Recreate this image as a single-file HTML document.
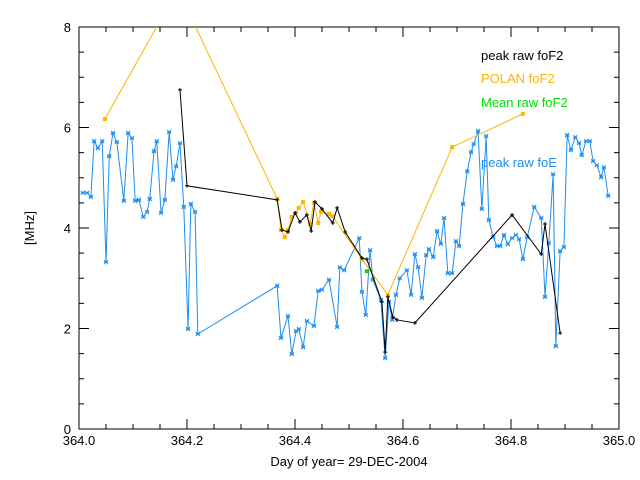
<!DOCTYPE html>
<html><head><meta charset="utf-8"><style>
body{margin:0;background:#fff}
svg{display:block;font-family:"Liberation Sans",sans-serif}
</style></head><body>
<svg id="chart" width="640" height="480" viewBox="0 0 640 480">
<rect width="640" height="480" fill="#fff"/>
<defs><clipPath id="pc"><rect x="79" y="27" width="540" height="402"/></clipPath></defs>
<g id="axes" stroke="#000" stroke-width="1" fill="none"></g>
<g id="series" clip-path="url(#pc)"></g>
<g id="labels" font-size="13"></g>
<text x="349" y="466" text-anchor="middle" font-size="13">Day of year= 29-DEC-2004</text>
<text x="34" y="228" text-anchor="middle" font-size="13" transform="rotate(-90 34 228)">[MHz]</text>
<text x="481" y="60" font-size="13" fill="#000">peak raw foF2</text>
<text x="481" y="83" font-size="13" fill="#ffb400">POLAN foF2</text>
<text x="481" y="107" font-size="13" fill="#00e000">Mean raw foF2</text>
<text x="481" y="167" font-size="13" fill="#1e8ff0">peak raw foE</text>
</svg>
<script>
const xTicks=[364.0,364.2,364.4,364.6,364.8,365.0];
const xTickLabels=["364.0","364.2","364.4","364.6","364.8","365.0"];
const yTicks=[0,2,4,6,8];
const yTickLabels=["0","2","4","6","8"];
const foEx=[364.007,364.015,364.022,364.028,364.035,364.043,364.050,364.056,364.063,364.070,364.083,364.091,364.098,364.104,364.111,364.119,364.126,364.131,364.139,364.144,364.152,364.159,364.167,364.174,364.180,364.187,364.194,364.202,364.207,364.215,364.220,364.367,364.374,364.387,364.394,364.402,364.407,364.415,364.422,364.435,364.443,364.450,364.463,364.478,364.483,364.491,364.519,364.524,364.531,364.539,364.544,364.559,364.567,364.574,364.580,364.587,364.594,364.607,364.615,364.622,364.628,364.635,364.643,364.648,364.656,364.663,364.670,364.676,364.683,364.691,364.698,364.704,364.711,364.719,364.726,364.731,364.739,364.746,364.754,364.759,364.767,364.774,364.780,364.787,364.794,364.802,364.809,364.815,364.822,364.830,364.843,364.856,364.863,364.870,364.878,364.883,364.891,364.898,364.904,364.911,364.919,364.926,364.931,364.939,364.946,364.952,364.959,364.967,364.972,364.980];
const foEy=[4.70,4.70,4.62,5.73,5.59,5.73,3.32,5.43,5.89,5.71,4.54,5.89,5.79,4.54,4.56,4.22,4.32,4.58,5.53,5.73,4.30,4.56,5.91,4.96,5.23,5.69,4.42,1.99,4.48,4.32,1.89,2.85,1.81,2.25,1.49,1.95,1.99,1.63,2.15,2.05,2.75,2.77,2.97,2.03,3.22,3.16,3.80,2.73,2.27,3.56,2.97,2.57,1.41,2.53,2.17,2.67,3.00,3.16,2.67,3.48,3.22,2.61,3.46,3.58,3.42,3.94,3.68,4.20,3.10,3.10,3.74,3.64,4.48,5.13,5.51,5.67,5.93,4.38,5.83,4.16,3.82,3.64,3.64,3.86,3.68,3.80,3.86,3.78,3.38,3.82,4.42,4.20,2.63,3.70,5.07,1.65,3.54,3.62,5.85,5.55,5.81,5.69,5.45,5.73,5.73,5.33,5.25,5.01,5.21,4.64];
const peakx=[364.187,364.200,364.367,364.376,364.387,364.400,364.409,364.422,364.430,364.437,364.450,364.470,364.478,364.493,364.524,364.533,364.561,364.567,364.572,364.581,364.589,364.622,364.802,364.856,364.863,364.891];
const peaky=[6.75,4.84,4.56,3.96,3.92,4.30,4.12,4.26,3.94,4.52,4.38,4.10,4.40,3.92,3.40,3.38,2.53,1.53,2.63,2.23,2.17,2.11,4.26,3.48,4.08,1.91];
const polx=[364.048,364.183,364.367,364.374,364.381,364.387,364.394,364.402,364.407,364.415,364.428,364.435,364.443,364.448,364.463,364.469,364.524,364.572,364.691,364.822];
const poly=[6.17,8.75,4.58,3.96,3.82,3.96,4.22,4.30,4.40,4.52,4.08,4.50,4.10,4.32,4.28,4.24,3.38,2.67,5.61,6.27];
const meanx=[364.533];
const meany=[3.14];
const X0=79,X1=619,Y0=429,Y1=27;
function sx(v){return X0+(v-364)*(X1-X0);}
function sy(v){return Y0-v/8*(Y0-Y1);}
const NS="http://www.w3.org/2000/svg";
function mk(t,a,p){const e=document.createElementNS(NS,t);for(const k in a)e.setAttribute(k,a[k]);p.appendChild(e);return e;}
const ax=document.getElementById('axes');
const frame=mk('rect',{x:X0,y:Y1,width:X1-X0,height:Y0-Y1},ax);


let d='';
for(let i=0;i<=20;i++){const v=364+i*0.05;const x=sx(v);const L=(i%4===0)?10:5;d+=`M${x} ${Y0}v${-L}M${x} ${Y1}v${L}`;}
for(let i=0;i<=16;i++){const v=i*0.5;const y=sy(v);const L=(i%4===0)?10:5;d+=`M${X0} ${y}h${L}M${X1} ${y}h${-L}`;}
const tk=mk('path',{d:d},ax);


const lb=document.getElementById('labels');
xTicks.forEach((v,i)=>{const t=mk('text',{x:sx(v),y:Y0+16,'text-anchor':'middle'},lb);t.textContent=xTickLabels[i];

});
yTicks.forEach((v,i)=>{const t=mk('text',{x:X0-8,y:sy(v)+5,'text-anchor':'end'},lb);t.textContent=yTickLabels[i];

});
const sr=document.getElementById('series');
function series(xs,ys,col,name,marker){
 const g=mk('g',{},sr);
 
 
 if(xs.length>1){mk('polyline',{points:xs.map((v,i)=>sx(v)+','+sy(ys[i])).join(' '),fill:'none',stroke:col,'stroke-width':1},g);}
 let md='';
 xs.forEach((v,i)=>{const x=sx(v),y=sy(ys[i]);
  if(marker==='x')md+=`M${x-2} ${y-2}L${x+2} ${y+2}M${x-2} ${y+2}L${x+2} ${y-2}M${x-2} ${y}h4`;
  else if(marker==='+')md+=`M${x-2} ${y}h4M${x} ${y-2}v4`;
  else md+=`M${x-1.5} ${y-1.5}h3v3h-3z`;});
 const m=mk('path',{d:md,stroke:col,fill:marker==='s'?col:'none','stroke-width':1},g);
 
 
}
series(foEx,foEy,'#1e8ff0','peak-foE-series','x');
series(polx,poly,'#ffb400','polan-foF2-series','s');
series(peakx,peaky,'#000','peak-foF2-series','+');
series(meanx,meany,'#00e000','mean-foF2-series','s');
</script>
</body></html>
